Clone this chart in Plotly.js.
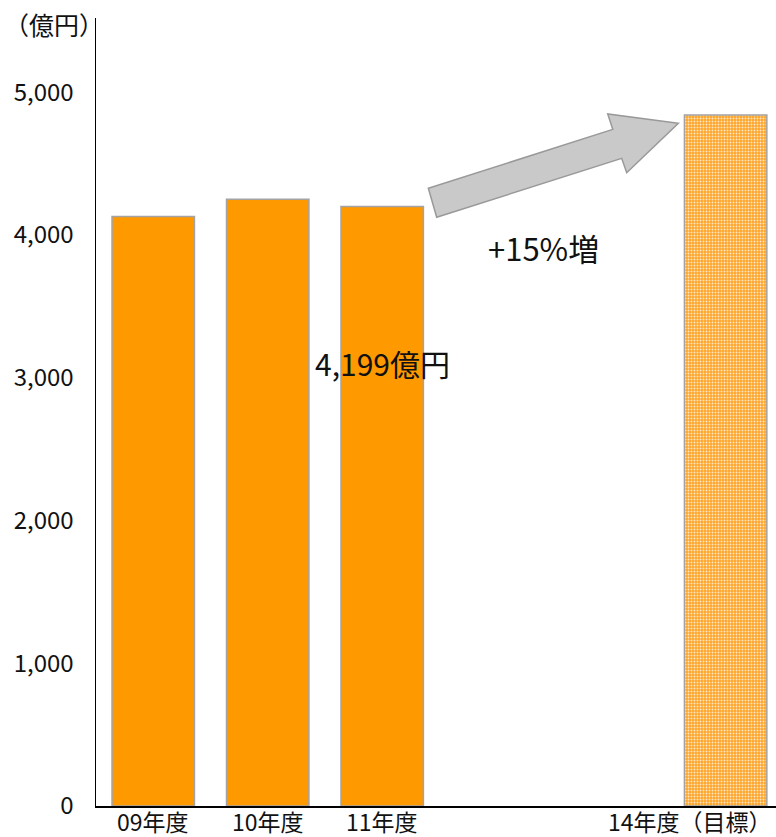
<!DOCTYPE html>
<html>
<head>
<meta charset="utf-8">
<script src="https://cdn.plot.ly/plotly-3.0.1.min.js"></script>
<style>
  html, body { margin: 0; padding: 0; background: #fff; }
  #chart { width: 776px; height: 837px; }
</style>
</head>
<body>
<div id="chart"></div>
<script>
// Sales by fiscal year (億円), with the FY14 target
const fiscalYears = [9, 10, 11, 14];
const yearLabels = ['09年度', '10年度', '11年度', '14年度（目標）'];
const sales = [4130, 4250, 4199, 4840];
const actualCount = 3;           // first three are results, last is the target
const growthLabel = '+15%増';
const unitLabel = '（億円）';
const yTicks = [0, 1000, 2000, 3000, 4000, 5000];

const FONT = '"Noto Sans CJK JP", "Noto Sans", sans-serif';
const slot = fiscalYears.map(y => y - fiscalYears[0]);

const barOutline = { color: '#a3a3a3', width: 1.5 };

const actual = {
  type: 'bar',
  x: slot.slice(0, actualCount),
  y: sales.slice(0, actualCount),
  width: 0.72,
  marker: { color: '#FF9900', line: barOutline },
  hoverinfo: 'skip'
};

const target = {
  type: 'bar',
  x: slot.slice(actualCount),
  y: sales.slice(actualCount),
  width: 0.72,
  marker: {
    color: '#FFA826',
    line: barOutline,
    pattern: { shape: '.', size: 3, solidity: 0.3, fgcolor: '#FFE9C8', bgcolor: '#FFA52B', fillmode: 'replace' }
  },
  hoverinfo: 'skip'
};

// block arrow from the FY11 bar up toward the target bar (data coordinates)
const arrowPts = [
  [2.476, 4124], [2.403, 4327], [4.014, 4740], [3.970, 4848],
  [4.587, 4783], [4.136, 4436], [4.092, 4537]
];
const arrowPath = 'M ' + arrowPts.map(p => p[0] + ',' + p[1]).join(' L ') + ' Z';

const fmt = v => v.toLocaleString('en-US');

const annotations = [];
// category labels under the axis
yearLabels.forEach((t, i) => {
  const last = i === yearLabels.length - 1;
  annotations.push({
    text: t,
    xref: last ? 'paper' : 'x',
    x: last ? 1 : slot[i],
    xanchor: last ? 'right' : 'center',
    xshift: last ? -2 : 0,
    yref: 'paper', y: 0, yanchor: 'middle', yshift: -15,
    showarrow: false,
    font: { family: FONT, size: 23, color: '#111' }
  });
});
// value label for the latest result
annotations.push({
  text: fmt(sales[actualCount - 1]) + '億円',
  x: slot[actualCount - 1], y: 3100, xref: 'x', yref: 'y',
  showarrow: false,
  font: { family: FONT, size: 30, color: '#111' }
});
// growth label under the arrow
annotations.push({
  text: growthLabel,
  x: 3.405, y: 3909, xref: 'x', yref: 'y',
  showarrow: false,
  font: { family: FONT, size: 31, color: '#111' }
});
// unit label
annotations.push({
  text: unitLabel,
  xref: 'paper', x: 0, xanchor: 'right', xshift: 10,
  yref: 'paper', y: 1, yanchor: 'middle', yshift: -6,
  showarrow: false,
  font: { family: FONT, size: 25, color: '#111' }
});

const layout = {
  width: 776, height: 837,
  margin: { l: 96, r: 0, t: 18, b: 31 },
  paper_bgcolor: '#fff', plot_bgcolor: '#fff',
  showlegend: false,
  barmode: 'overlay',
  xaxis: {
    range: [-0.5, 5.44],
    showgrid: false, zeroline: false,
    showticklabels: false, ticks: '',
    showline: true, linecolor: '#000', linewidth: 1.5,
    fixedrange: true
  },
  yaxis: {
    range: [0, 5520],
    tickvals: yTicks,
    ticktext: yTicks.map(fmt),
    showgrid: false, zeroline: false,
    ticks: '',
    ticklabelstandoff: 16,
    showline: true, linecolor: '#000', linewidth: 1.5,
    tickfont: { family: FONT, size: 24, color: '#111' },
    fixedrange: true
  },
  shapes: [{
    type: 'path', xref: 'x', yref: 'y',
    path: arrowPath,
    fillcolor: '#C9C9C9',
    line: { color: '#999', width: 1.5 }
  }],
  annotations: annotations
};

Plotly.newPlot('chart', [actual, target], layout, { displayModeBar: false, staticPlot: true });
</script>
</body>
</html>
